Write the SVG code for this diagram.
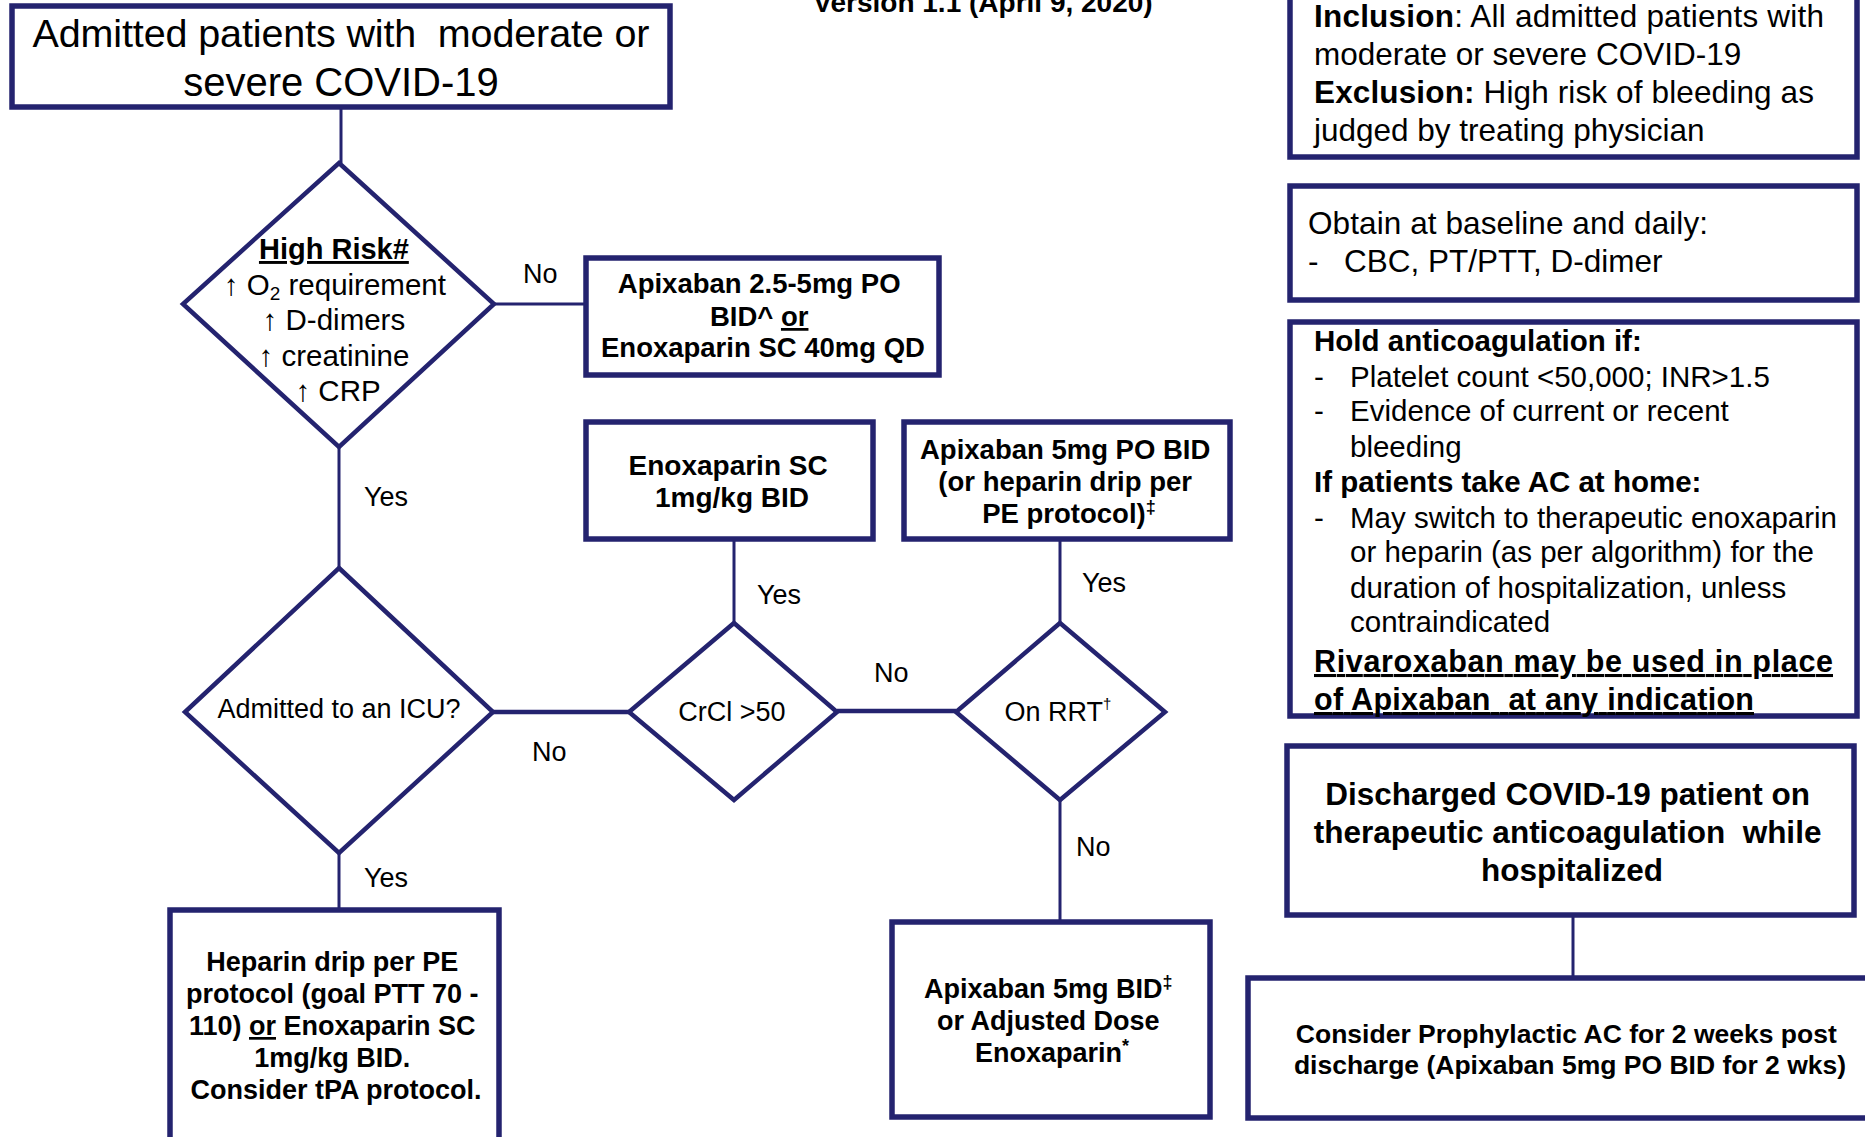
<svg xmlns="http://www.w3.org/2000/svg" width="1865" height="1137" viewBox="0 0 1865 1137">
<style>
.box{fill:#fff;stroke:#24236F;stroke-width:5.5}
.dia{fill:#fff;stroke:#24236F;stroke-width:4.5;stroke-linejoin:miter}
.conn{stroke:#24236F;stroke-width:3;fill:none}
.thick{stroke-width:4.5}
text{font-family:"Liberation Sans",Arial,sans-serif;fill:#000}
.b{font-weight:bold}
.c{text-anchor:middle}
.u{text-decoration:underline}
</style>
<rect width="1865" height="1137" fill="#fff"/>
<text class="b c" x="983" y="12" font-size="28">Version 1.1 (April 9, 2020)</text>

<g id="connectors">
<path class="conn" d="M341 107V163"/>
<path class="conn" d="M494 304H586"/>
<path class="conn" d="M339 447V568"/>
<path class="conn" d="M339 853V910"/>
<path class="conn thick" d="M493 712H629"/>
<path class="conn" d="M734 623V540"/>
<path class="conn thick" d="M837 711H956"/>
<path class="conn" d="M1060 623V539"/>
<path class="conn" d="M1060 800V922"/>
<path class="conn" d="M1573 915V978"/>
<g font-size="27">
<text x="523" y="283">No</text>
<text x="364" y="506">Yes</text>
<text x="364" y="887">Yes</text>
<text x="532" y="761">No</text>
<text x="757" y="604">Yes</text>
<text x="874" y="682">No</text>
<text x="1082" y="592">Yes</text>
<text x="1076" y="856">No</text>
</g>
</g>

<g id="start">
<rect class="box" x="12" y="6" width="658" height="101"/>
<text class="c" x="341" y="46.5" font-size="39.5" textLength="617" lengthAdjust="spacing">Admitted patients with&#160; moderate or</text>
<text class="c" x="341" y="96" font-size="40">severe COVID-19</text>
</g>

<g id="highrisk">
<polygon class="dia" points="339,163 494,304 339,447 183,304"/>
<text class="c" font-size="29.5" x="338">
<tspan x="338" y="259" class="b u" font-size="29">High Risk#</tspan>
<tspan x="339" y="295">↑ O<tspan font-size="19" dy="5">2</tspan><tspan dy="-5"> requirement</tspan></tspan>
<tspan x="338" y="330">↑ D-dimers</tspan>
<tspan x="338" y="366">↑ creatinine</tspan>
<tspan x="338" y="401">↑ CRP</tspan>
</text>
</g>

<g id="proph">
<rect class="box" x="586" y="258" width="353" height="117"/>
<text class="b c" font-size="27.5">
<tspan x="763" y="293">Apixaban 2.5-5mg PO</tspan>
<tspan x="763" y="326">BID^ <tspan class="u">or</tspan></tspan>
<tspan x="763" y="357">Enoxaparin SC 40mg QD</tspan>
</text>
</g>

<g id="icu">
<polygon class="dia" points="339,568 493,712 339,853 185,712"/>
<text class="c" x="339" y="718" font-size="27">Admitted to an ICU?</text>
</g>

<g id="heparin">
<rect class="box" x="170" y="910" width="329" height="245"/>
<text class="b c" font-size="27">
<tspan x="336" y="971">Heparin drip per PE</tspan>
<tspan x="336" y="1003">protocol (goal PTT 70 -</tspan>
<tspan x="336" y="1035">110) <tspan class="u">or</tspan> Enoxaparin SC</tspan>
<tspan x="336" y="1067">1mg/kg BID.</tspan>
<tspan x="336" y="1099">Consider tPA protocol.</tspan>
</text>
</g>

<g id="crcl">
<polygon class="dia" points="734,623 837,712 734,800 629,712"/>
<text class="c" x="732" y="721" font-size="27">CrCl &gt;50</text>
</g>

<g id="enox">
<rect class="box" x="586" y="422" width="287" height="117"/>
<text class="b c" font-size="28">
<tspan x="732" y="475">Enoxaparin SC</tspan>
<tspan x="732" y="507">1mg/kg BID</tspan>
</text>
</g>

<g id="rrt">
<polygon class="dia" points="1060,623 1165,712 1060,800 956,712"/>
<text class="c" x="1058" y="721" font-size="27">On RRT<tspan font-size="15" dy="-12">†</tspan></text>
</g>

<g id="apix5">
<rect class="box" x="904" y="422" width="326" height="117"/>
<text class="b c" font-size="27.5">
<tspan x="1069" y="459">Apixaban 5mg PO BID</tspan>
<tspan x="1069" y="491">(or heparin drip per</tspan>
<tspan x="1069" y="523">PE protocol)<tspan font-size="18" dy="-10">‡</tspan></tspan>
</text>
</g>

<g id="apixbid">
<rect class="box" x="892" y="922" width="318" height="195"/>
<text class="b c" font-size="27">
<tspan x="1052" y="998">Apixaban 5mg BID<tspan font-size="18" dy="-10">‡</tspan></tspan>
<tspan x="1052" y="1030">or Adjusted Dose</tspan>
<tspan x="1052" y="1062">Enoxaparin<tspan font-size="18" dy="-10">*</tspan></tspan>
</text>
</g>

<g id="inclusion">
<rect class="box" x="1290" y="-20" width="567" height="177"/>
<text font-size="31.5" x="1314" y="27" textLength="510" lengthAdjust="spacing"><tspan class="b">Inclusion</tspan>: All admitted patients with</text>
<text font-size="31.5" x="1314" y="65">moderate or severe COVID-19</text>
<text font-size="31.5" x="1314" y="103" textLength="500" lengthAdjust="spacing"><tspan class="b">Exclusion:</tspan> High risk of bleeding as</text>
<text font-size="31.5" x="1314" y="141">judged by treating physician</text>
</g>

<g id="obtain">
<rect class="box" x="1290" y="186" width="567" height="114"/>
<text font-size="31.5" x="1308" y="234" textLength="400" lengthAdjust="spacing">Obtain at baseline and daily:</text>
<text font-size="31.5" x="1308" y="272">-</text>
<text font-size="31.5" x="1344" y="272">CBC, PT/PTT, D-dimer</text>
</g>

<g id="hold">
<rect class="box" x="1290" y="322" width="567" height="394"/>
<g font-size="29.5">
<text class="b" x="1314" y="351">Hold anticoagulation if:</text>
<text x="1314" y="387">-</text><text x="1350" y="387">Platelet count &lt;50,000; INR&gt;1.5</text>
<text x="1314" y="421">-</text><text x="1350" y="421">Evidence of current or recent</text>
<text x="1350" y="457">bleeding</text>
<text class="b" x="1314" y="492">If patients take AC at home:</text>
<text x="1314" y="528">-</text><text x="1350" y="528">May switch to therapeutic enoxaparin</text>
<text x="1350" y="562">or heparin (as per algorithm) for the</text>
<text x="1350" y="598">duration of hospitalization, unless</text>
<text x="1350" y="632">contraindicated</text>
</g>
<text class="b u" font-size="30.5" x="1314" y="672" textLength="519" lengthAdjust="spacing">Rivaroxaban may be used in place</text>
<text class="b u" font-size="30.5" x="1314" y="710" textLength="440" lengthAdjust="spacing">of Apixaban&#160; at any indication</text>
</g>

<g id="discharged">
<rect class="box" x="1287" y="746" width="567" height="169"/>
<text class="b c" font-size="31.5">
<tspan x="1572" y="805">Discharged COVID-19 patient on</tspan>
<tspan x="1572" y="843">therapeutic anticoagulation&#160; while</tspan>
<tspan x="1572" y="881">hospitalized</tspan>
</text>
</g>

<g id="consider">
<rect class="box" x="1248" y="978" width="640" height="140"/>
<text class="b c" font-size="26.5">
<tspan x="1570" y="1043">Consider Prophylactic AC for 2 weeks post</tspan>
<tspan x="1570" y="1074">discharge (Apixaban 5mg PO BID for 2 wks)</tspan>
</text>
</g>
</svg>
